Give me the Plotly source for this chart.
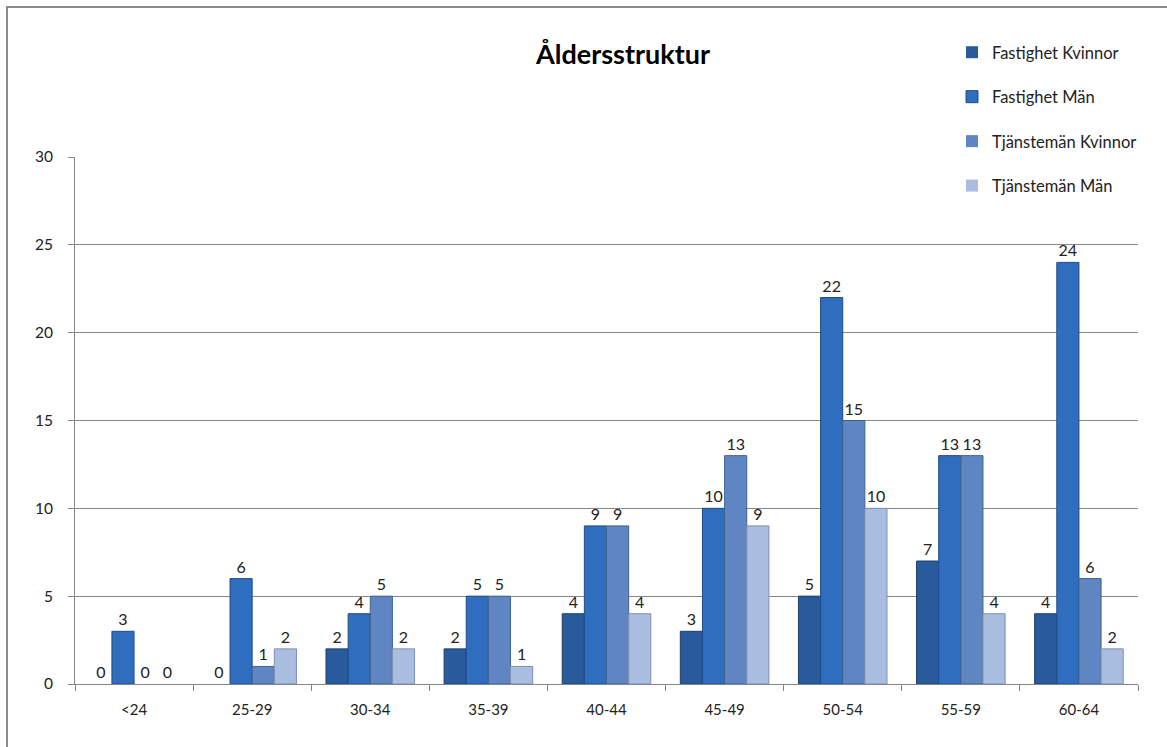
import plotly.graph_objects as go

# Age groups and head counts per series
age_groups = ["<24", "25-29", "30-34", "35-39", "40-44", "45-49", "50-54", "55-59", "60-64"]
fastighet_kvinnor = [0, 0, 2, 2, 4, 3, 5, 7, 4]
fastighet_man = [3, 6, 4, 5, 9, 10, 22, 13, 24]
tjansteman_kvinnor = [0, 1, 5, 5, 9, 13, 15, 13, 6]
tjansteman_man = [0, 2, 2, 1, 4, 9, 10, 4, 2]
y_ticks = [0, 5, 10, 15, 20, 25, 30]

series = [
    ("Fastighet Kvinnor", fastighet_kvinnor, "#285A9C", "#1C3F6E"),
    ("Fastighet Män", fastighet_man, "#2F6DBE", "#1F4C88"),
    ("Tjänstemän Kvinnor", tjansteman_kvinnor, "#5F86C2", "#40628F"),
    ("Tjänstemän Män", tjansteman_man, "#A9BDE0", "#7D90B3"),
]

FONT = "Lato, 'Open Sans', sans-serif"

W, H = 1167, 747
L, R, T, B = 75, 29, 157, 63

fig = go.Figure()
for i, (name, vals, col, edge) in enumerate(series):
    fig.add_trace(go.Bar(
        x=age_groups, y=vals, name=name, legendgroup=f"g{i}",
        marker=dict(color=col,
                    line=dict(color=edge, width=[1 if v > 0 else 0 for v in vals])),
        text=[str(v) for v in vals], textposition="outside",
        textfont=dict(family=FONT, size=16, color="#222222"),
        cliponaxis=False,
    ))

# Outer frame of the chart (left/top edges visible)
pw, ph = W - L - R, H - T - B
def px_x(px):
    return (px - L) / pw
def px_y(py):
    return (H - B - py) / ph

fig.add_shape(type="rect", xref="paper", yref="paper",
              x0=px_x(7), x1=px_x(1175), y0=px_y(755), y1=px_y(7),
              line=dict(color="#8A8A8A", width=2), layer="below")

fig.update_layout(
    width=W, height=H,
    margin=dict(l=L, r=R, t=T, b=B),
    paper_bgcolor="white", plot_bgcolor="white",
    barmode="group", bargap=0.25, bargroupgap=0,
    font=dict(family=FONT, size=14, color="#222222"),
    title=dict(text="<b>Åldersstruktur</b>", x=623 / W, xanchor="center",
               y=1 - 55 / H, yanchor="middle",
               font=dict(family=FONT, size=27, color="black")),
    legend=dict(x=px_x(952), xanchor="left", y=px_y(35), yanchor="top",
                font=dict(family=FONT, size=16.5, color="#222222"),
                tracegroupgap=20, itemwidth=30, bgcolor="rgba(0,0,0,0)"),
    showlegend=True,
)

fig.update_xaxes(
    showline=True, linecolor="#868686", linewidth=1,
    ticks="outside", tickson="boundaries", ticklen=6, tickcolor="#868686",
    tickfont=dict(family=FONT, size=15, color="#222222"),
    showgrid=False, ticklabelstandoff=12,
)
fig.update_yaxes(
    range=[0, 30], tickvals=y_ticks,
    showline=True, linecolor="#868686", linewidth=1,
    ticks="outside", ticklen=6, tickcolor="#868686",
    showgrid=True, gridcolor="#868686", gridwidth=1,
    tickfont=dict(family=FONT, size=15.5, color="#222222"),
    zeroline=False, ticklabelstandoff=12,
)

fig.write_html("out.html")
